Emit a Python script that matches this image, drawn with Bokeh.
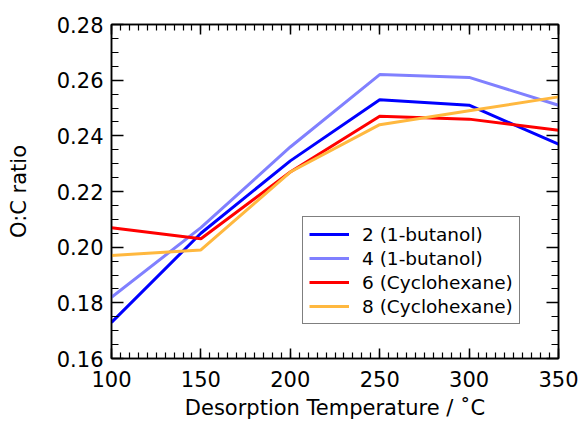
from bokeh.plotting import figure
from bokeh.models import (LinearAxis, FixedTicker, PrintfTickFormatter,
                          CustomJSTickFormatter, Range1d)
from bokeh.embed import file_html
from bokeh.resources import INLINE

# ---- data ----
temperature = [100, 150, 200, 250, 300, 350]
s2_butanol = [0.173, 0.205, 0.231, 0.253, 0.251, 0.237]
s4_butanol = [0.182, 0.207, 0.236, 0.262, 0.261, 0.251]
s6_cyclohexane = [0.207, 0.203, 0.227, 0.247, 0.246, 0.242]
s8_cyclohexane = [0.197, 0.199, 0.227, 0.244, 0.249, 0.254]

series_labels = ["2 (1-butanol)", "4 (1-butanol)", "6 (Cyclohexane)", "8 (Cyclohexane)"]
series_colors = ["#0000FF", "#8080FF", "#FF0000", "#FFB83F"]

x_major = [100, 150, 200, 250, 300, 350]
y_major = [0.16, 0.18, 0.20, 0.22, 0.24, 0.26, 0.28]

FONT = "DejaVu Sans"

p = figure(width=582, height=426, output_backend="svg", toolbar_location=None,
           x_range=Range1d(100, 350), y_range=Range1d(0.16, 0.28),
           min_border_left=111, min_border_right=24, min_border_top=24,
           min_border_bottom=68)
p.grid.visible = False
p.outline_line_color = "black"
p.outline_line_width = 1.5
p.background_fill_color = "white"
p.border_fill_color = "white"

for ys, lab, col in zip([s2_butanol, s4_butanol, s6_cyclohexane, s8_cyclohexane],
                        series_labels, series_colors):
    p.line(temperature, ys, line_color=col, line_width=3, legend_label=lab)

x_minor = [100 + 5 * i for i in range(51)]
y_minor = [round(0.16 + 0.005 * i, 3) for i in range(25)]

def style_axis(ax, major, minor, tin, tmin):
    ax.ticker = FixedTicker(ticks=major, minor_ticks=minor)
    ax.axis_line_color = "black"
    ax.axis_line_width = 1.5
    ax.major_tick_line_color = "black"
    ax.minor_tick_line_color = "black"
    ax.major_tick_line_width = 1.5
    ax.minor_tick_line_width = 1.2
    ax.major_tick_in = tin
    ax.major_tick_out = 0
    ax.minor_tick_in = tmin
    ax.minor_tick_out = 0
    ax.major_label_text_font = FONT
    ax.major_label_text_font_size = "21px"
    ax.major_label_text_color = "black"
    ax.axis_label_text_font = FONT
    ax.axis_label_text_font_size = "21px"
    ax.axis_label_text_font_style = "normal"
    ax.axis_label_text_color = "black"

xa = p.xaxis[0]
style_axis(xa, x_major, x_minor, 10, 6)
xa.formatter = PrintfTickFormatter(format="%d")
xa.axis_label = "Desorption Temperature / ˚C"
xa.major_label_standoff = 12
xa.axis_label_standoff = 6

ya = p.yaxis[0]
style_axis(ya, y_major, y_minor, 12, 7)
ya.formatter = PrintfTickFormatter(format="%.2f")
ya.axis_label = "O:C ratio"
ya.major_label_standoff = 8
ya.axis_label_standoff = 23

top = LinearAxis()
style_axis(top, x_major, x_minor, 10, 6)
top.formatter = CustomJSTickFormatter(code="return ''")
top.major_label_text_font_size = "0px"
p.add_layout(top, "above")

right = LinearAxis()
style_axis(right, y_major, y_minor, 12, 7)
right.formatter = CustomJSTickFormatter(code="return ''")
right.major_label_text_font_size = "0px"
p.add_layout(right, "right")

lg = p.legend[0]
lg.location = (191, 34)
lg.border_line_color = "black"
lg.border_line_width = 1.5
lg.background_fill_color = "white"
lg.background_fill_alpha = 1
lg.label_text_font = FONT
lg.label_text_font_size = "18.5px"
lg.label_text_color = "black"
lg.glyph_width = 40
lg.glyph_height = 22
lg.label_height = 22
lg.label_standoff = 13
lg.spacing = 2
lg.padding = 6
lg.margin = 0

open("out.html", "w").write(file_html(p, INLINE))
